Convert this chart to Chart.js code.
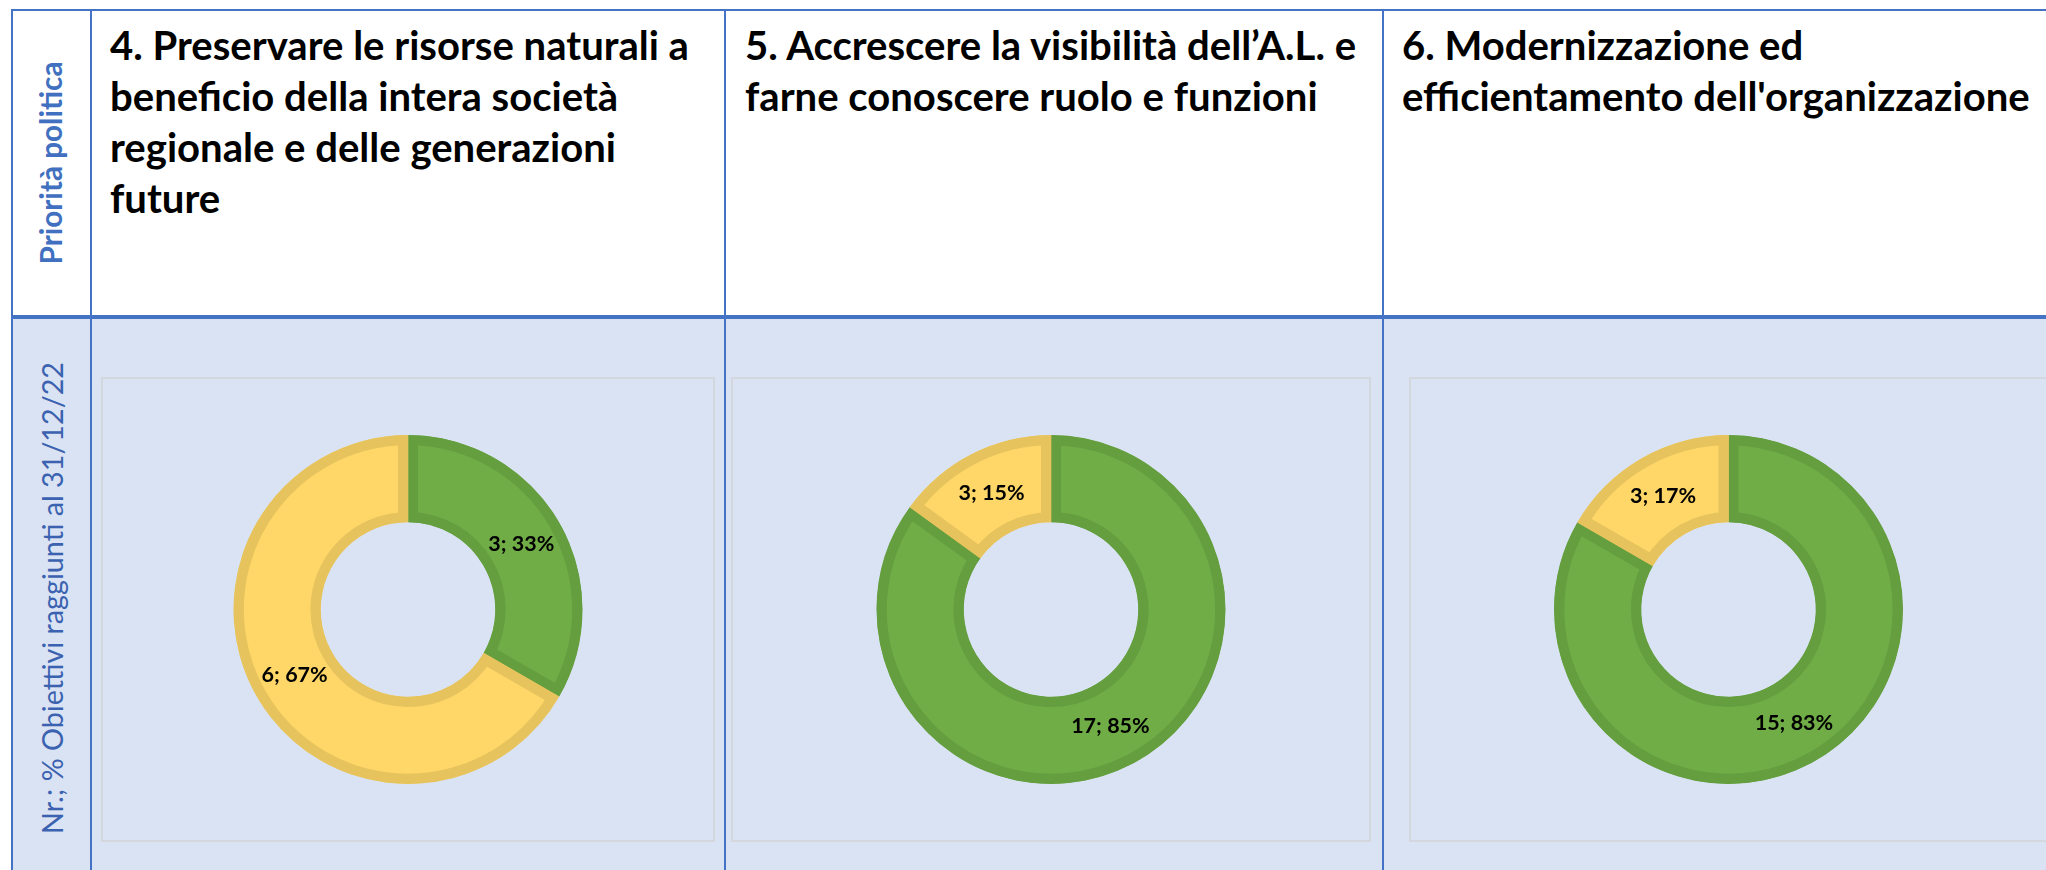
<!DOCTYPE html>
<html><head><meta charset="utf-8">
<script src="https://cdn.jsdelivr.net/npm/chart.js@4.4.1/dist/chart.umd.min.js"></script>
<style>
html,body{margin:0;padding:0;width:2046px;height:870px;overflow:hidden;background:#fff;}
.abs{position:absolute;}
.line{position:absolute;background:#4472C4;}
.hdr{position:absolute;font-family:Lato,'Open Sans',sans-serif;font-weight:700;color:#000;line-height:51px;white-space:nowrap;}
.rot{position:absolute;white-space:nowrap;font-family:Lato,sans-serif;line-height:1;transform:translate(-50%,-50%) rotate(-90deg);}
.panel{position:absolute;box-sizing:border-box;border:2px solid #D4D8DE;}
canvas{position:absolute;left:0;top:0;}
</style></head>
<body>
<div class="abs" style="left:12px;top:318px;width:2034px;height:552px;background:#DAE3F3"></div>
<div class="line" style="left:11px;top:9px;width:2035px;height:2px"></div>
<div class="line" style="left:11px;top:9px;width:2px;height:861px"></div>
<div class="line" style="left:90px;top:9px;width:2px;height:861px"></div>
<div class="line" style="left:724px;top:9px;width:2px;height:861px"></div>
<div class="line" style="left:1382px;top:9px;width:2px;height:861px"></div>
<div class="line" style="left:11px;top:315px;width:2035px;height:4px"></div>

<div id="rowTop" class="rot" style="left:51px;top:163px;font-weight:700;color:#4170C0"></div>
<div id="rowBottom" class="rot" style="left:52px;top:598px;font-weight:400;color:#3A62B0"></div>

<div id="h1" class="hdr" style="left:110px;top:19px"></div>
<div id="h2" class="hdr" style="left:745px;top:19px"></div>
<div id="h3" class="hdr" style="left:1402px;top:19px"></div>

<div class="panel" style="left:101px;top:377px;width:614px;height:465px"><canvas id="c1" width="614" height="465" style="left:-2px;top:-2px"></canvas></div>
<div class="panel" style="left:731px;top:377px;width:640px;height:465px"><canvas id="c2" width="640" height="465" style="left:-2px;top:-2px"></canvas></div>
<div class="panel" style="left:1409px;top:377px;width:639px;height:465px"><canvas id="c3" width="639" height="465" style="left:-2px;top:-2px"></canvas></div>

<script>
// ---- data ----
const rowLabelTop = "Priorità politica";
const rowLabelBottom = "Nr.; % Obiettivi raggiunti al 31/12/22";
const header1 = ["4. Preservare le risorse naturali a", "beneficio della intera società", "regionale e delle generazioni", "future"];
const header2 = ["5. Accrescere la visibilità dell\u2019A.L. e", "farne conoscere ruolo e funzioni"];
const header3 = ["6. Modernizzazione ed", "efficientamento dell'organizzazione"];
const categories = ["Raggiunti", "Non raggiunti"];
const achieved = [3, 17, 15];
const notAchieved = [6, 3, 3];
const fillColors = ["#70AD47", "#FED768"];
const borderColors = ["#649E3F", "#E6C35C"];

// ---- text fitting ----
const mctx = document.createElement('canvas').getContext('2d');
function fit(text, weight, target) {
  mctx.font = weight + ' 100px Lato';
  return 100 * target / mctx.measureText(text).width;
}
const hSize = fit(header1[0], 'bold', 579);
[[header1,'h1'],[header2,'h2'],[header3,'h3']].forEach(([lines,id]) => {
  const el = document.getElementById(id);
  el.style.fontSize = hSize.toFixed(2) + 'px';
  el.innerHTML = lines.map(s => s.replace(/&/g,'&amp;')).join('<br>');
});
const rt = document.getElementById('rowTop');
rt.textContent = rowLabelTop;
rt.style.fontSize = fit(rowLabelTop, 'bold', 203).toFixed(2) + 'px';
const rb = document.getElementById('rowBottom');
rb.textContent = rowLabelBottom;
rb.style.fontSize = fit(rowLabelBottom, 'normal', 472).toFixed(2) + 'px';

// ---- charts ----
const labelPlugin = {
  id: 'sliceLabels',
  afterDatasetsDraw(chart) {
    const ctx = chart.ctx;
    const meta = chart.getDatasetMeta(0);
    const d = chart.data.datasets[0].data;
    const tot = d.reduce((a, b) => a + b, 0);
    ctx.save();
    ctx.font = 'bold 21.5px Lato';
    ctx.fillStyle = '#000';
    ctx.textAlign = 'center';
    ctx.textBaseline = 'middle';
    meta.data.forEach((el, i) => {
      const p = el.tooltipPosition();
      ctx.fillText(d[i] + '; ' + Math.round(d[i] / tot * 100) + '%', p.x, p.y);
    });
    ctx.restore();
  }
};

['c1','c2','c3'].forEach((id, k) => {
  new Chart(document.getElementById(id), {
    type: 'doughnut',
    data: {
      labels: categories,
      datasets: [{
        data: [achieved[k], notAchieved[k]],
        backgroundColor: fillColors,
        borderColor: borderColors,
        borderWidth: 10,
        borderAlign: 'inner',
        hoverOffset: 0,
        offset: 0
      }]
    },
    options: {
      responsive: false,
      animation: false,
      cutout: '50%',
      events: [],
      layout: { padding: { top: 58, bottom: 58, left: 0, right: 0 } },
      plugins: { legend: { display: false }, tooltip: { enabled: false } }
    },
    plugins: [labelPlugin]
  });
});
</script>
</body></html>
